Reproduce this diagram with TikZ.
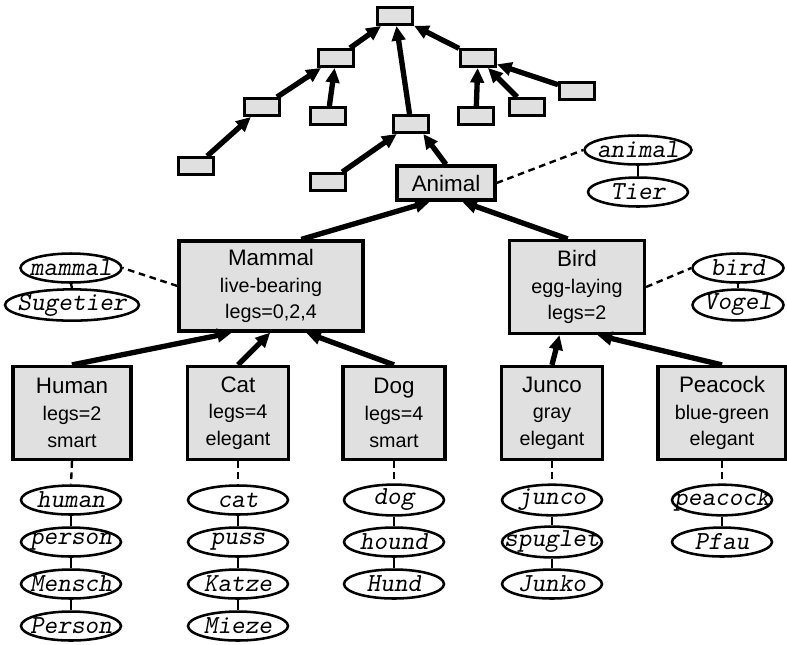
\documentclass[tikz,border=0pt]{standalone}
\usepackage{fontspec}
\setsansfont{Liberation Sans}
\usetikzlibrary{shapes.geometric,arrows.meta}

\definecolor{boxgray}{gray}{0.88}
\def\pxu{0.75pt}
\newcommand{\ttl}[1]{{\fontsize{16.8}{20}\selectfont #1}}
\newcommand{\wrd}[1]{\makebox[0pt]{#1}}

\tikzset{
  kind/.style={draw, line width=2.4pt, fill=boxgray, font=\sffamily\fontsize{14.8}{20}\selectfont,
    align=center, minimum height=93*\pxu, inner sep=0pt},
  blank/.style={draw, line width=2.2pt, fill=boxgray, minimum width=35*\pxu,
    minimum height=17*\pxu, inner sep=0pt},
  word/.style={ellipse, draw, line width=1.9pt, fill=white, minimum width=100*\pxu,
    minimum height=29*\pxu, inner sep=0pt, font=\ttfamily\slshape\fontsize{19.5}{19.5}\selectfont},
  isa/.style={-{Triangle[length=11pt,width=10pt]}, line width=4pt},
  sense/.style={dashed, dash pattern=on 5pt off 3.5pt, line width=1.8pt},
  syn/.style={line width=1.8pt}
}

\begin{document}
\begin{tikzpicture}[x=0.75pt, y=-0.75pt]
    \useasboundingbox (0,0) rectangle (787,644);

    % the unnamed upper hierarchy
    \foreach \n/\x/\y in {root/395/16, l1/336/58, r1/478/58, l2a/262/107, l2b/328/116,
        msup/411/124, l3/196/166, m2/328/182, r2a/476/116, r2b/527/107, r2c/577/91} {
        \node[blank] (\n) at (\x,\y) {};
    }
    \foreach \a/\b in {l1/root, r1/root, msup/root, l2a/l1, l2b/l1, l3/l2a, m2/msup,
        r2a/r1, r2b/r1, r2c/r1} {
        \draw[isa] (\a) -- (\b);
    }

    % the concepts
    \node[kind, minimum width=98*\pxu, minimum height=34*\pxu] (animal) at (446,183) {\ttl{Animal}};
    \node[kind, minimum width=184*\pxu, minimum height=90*\pxu] (mammal) at (271,286)
        {\ttl{Mammal}\\live-bearing\\legs=0,2,4};
    \node[kind, minimum width=135*\pxu] (bird) at (577,287) {\ttl{Bird}\\egg-laying\\legs=2};
    \node[kind, minimum width=118*\pxu] (human) at (72,413) {\ttl{Human}\\legs=2\\smart};
    \node[kind, minimum width=101*\pxu] (cat) at (238,413) {\ttl{Cat}\\legs=4\\elegant};
    \node[kind, minimum width=102*\pxu] (dog) at (394,413) {\ttl{Dog}\\legs=4\\smart};
    \node[kind, minimum width=101*\pxu] (junco) at (552,413) {\ttl{Junco}\\gray\\elegant};
    \node[kind, minimum width=128*\pxu] (peacock) at (722,413) {\ttl{Peacock}\\blue-green\\elegant};

    % is-a arrows
    \draw[isa] (animal.north) -- (msup.321);
    \draw[isa] (mammal.57) -- (animal.229);
    \draw[isa] (bird.101) -- (animal.311);
    \draw[isa] (human.north) -- (mammal.230);
    \draw[isa] (cat.north) -- (mammal.269);
    \draw[isa] (dog.north) -- (mammal.307);
    \draw[isa] (junco.north) -- (bird.250);
    \draw[isa] (peacock.north) -- (bird.293);

    % words beside the upper concepts
    \node[word, minimum width=107*\pxu] (animal1) at (638,150) {\wrd{animal}};
    \node[word] (animal2) at (638,192) {\wrd{Tier}};
    \node[word, minimum width=101*\pxu] (mammal1) at (71,268) {\wrd{mammal}};
    \node[word, minimum width=134*\pxu] (mammal2) at (72,305) {\wrd{Sugetier}};
    \node[word, minimum width=91*\pxu] (bird1) at (738,268) {\wrd{bird}};
    \node[word, minimum width=91*\pxu] (bird2) at (738,305) {\wrd{Vogel}};
    \draw[sense] (animal.east) -- (animal1.west);
    \draw[sense] (mammal.west) -- (mammal1.east);
    \draw[sense] (bird.east) -- (bird1.west);
    \foreach \n in {animal,mammal,bird} {
        \draw[syn] (\n1.south) -- (\n2.north);
    }

    % words below the lower concepts
    \foreach \w [count=\i] in {human,person,Mensch,Person} {
        \node[word] (human\i) at (71,458+42*\i) {\wrd{\w}};
    }
    \foreach \w [count=\i] in {cat,puss,Katze,Mieze} {
        \node[word] (cat\i) at (238,458+42*\i) {\wrd{\w}};
    }
    \foreach \w [count=\i] in {dog,hound,Hund} {
        \node[word] (dog\i) at (394,458+42*\i) {\wrd{\w}};
    }
    \foreach \w [count=\i] in {junco,spuglet,Junko} {
        \node[word] (junco\i) at (552,458+42*\i) {\wrd{\w}};
    }
    \foreach \w [count=\i] in {peacock,Pfau} {
        \node[word] (peacock\i) at (722,458+42*\i) {\wrd{\w}};
    }
    \foreach \n in {human,cat,dog,junco,peacock} {
        \draw[sense] (\n.south) -- (\n1.north);
    }
    \foreach \n/\i/\j in {human/1/2, human/2/3, human/3/4, cat/1/2, cat/2/3, cat/3/4,
        dog/1/2, dog/2/3, junco/1/2, junco/2/3, peacock/1/2} {
        \draw[syn] (\n\i.south) -- (\n\j.north);
    }
\end{tikzpicture}
\end{document}
